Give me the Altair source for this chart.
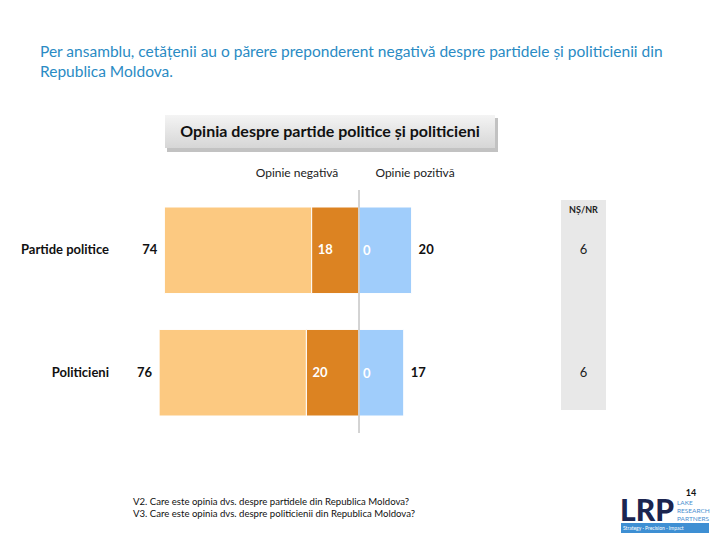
import altair as alt
import pandas as pd

# ---- data ----
categories = ["Partide politice", "Politicieni"]
neg_total = [74, 76]
neg_strong = [18, 20]
pos_total = [20, 17]
pos_strong = [0, 0]
ns_nr = [6, 6]

title_lines = [
    "Per ansamblu, cetățenii au o părere preponderent negativă despre partidele și politicienii din",
    "Republica Moldova.",
]
box_title = "Opinia despre partide politice și politicieni"
headers = ["Opinie negativă", "Opinie pozitivă"]
footnotes = [
    "V2. Care este opinia dvs. despre partidele din Republica Moldova?",
    "V3. Care este opinia dvs. despre politicienii din Republica Moldova?",
]

FONT = "Lato"
W, H = 704, 526

seg_names = ["neg_light", "neg_strong", "pos_light", "pos_strong"]
seg_colors = ["#FCC981", "#DC8322", "#A0CDFB", "#5B9BD5"]

rows = []
for i, c in enumerate(categories):
    rows.append(dict(cat=c, seg="neg_light", x0=-neg_total[i], x1=-neg_strong[i]))
    rows.append(dict(cat=c, seg="neg_strong", x0=-neg_strong[i], x1=0))
    rows.append(dict(cat=c, seg="pos_light", x0=0, x1=pos_total[i]))
    rows.append(dict(cat=c, seg="pos_strong", x0=0, x1=pos_strong[i]))
bars_df = pd.DataFrame(rows)

lab_df = pd.DataFrame({
    "cat": categories,
    "neg_total": neg_total,
    "neg_strong": neg_strong,
    "pos_total": pos_total,
    "pos_strong": pos_strong,
    "ns_nr": ns_nr,
    "neg_pos": [-v for v in neg_total],
    "negs_pos": [-v for v in neg_strong],
})

xscale = alt.Scale(domain=[-351 / 2.63, (W - 351) / 2.63], nice=False, zero=False)
yscale = alt.Scale(domain=categories, range=[199, 408], paddingInner=0.293, paddingOuter=0)

X = lambda f: alt.X(f, type="quantitative", scale=xscale, axis=None)
Y = alt.Y("cat:N", scale=yscale, axis=None)

bars = alt.Chart(bars_df).mark_bar(stroke="white", strokeWidth=1).encode(
    x=X("x0"), x2="x1", y=Y,
    color=alt.Color("seg:N", scale=alt.Scale(domain=seg_names, range=seg_colors), legend=None),
)

lab = alt.Chart(lab_df)
neg_lbl = lab.mark_text(align="right", dx=-7, font=FONT, fontSize=13, fontWeight="bold", color="#111").encode(
    x=X("neg_pos"), y=Y, text="neg_total:Q")
pos_lbl = lab.mark_text(align="left", dx=7, font=FONT, fontSize=13, fontWeight="bold", color="#111").encode(
    x=X("pos_total"), y=Y, text="pos_total:Q")
negs_lbl = lab.mark_text(align="left", dx=6, font=FONT, fontSize=13, fontWeight="bold", color="white").encode(
    x=X("negs_pos"), y=Y, text="neg_strong:Q")
poss_lbl = lab.mark_text(align="left", dx=4, dy=1, font=FONT, fontSize=13, fontWeight="bold", color="white").encode(
    x=X("pos_strong"), y=Y, text="pos_strong:Q")
cat_lbl = lab.mark_text(align="right", font=FONT, fontSize=13, fontWeight="bold", color="#111").encode(
    x=alt.value(101), y=Y, text="cat:N")

# NS/NR column
col_bg = alt.Chart(pd.DataFrame({"a": [0]})).mark_rect(color="#E8E8E8").encode(
    x=alt.value(553), x2=alt.value(598), y=alt.value(192), y2=alt.value(402))
col_hdr = alt.Chart(pd.DataFrame({"t": ["NȘ/NR"]})).mark_text(
    font=FONT, fontSize=9, fontWeight="bold", color="#222").encode(
    x=alt.value(575.5), y=alt.value(202), text="t:N")
ns_lbl = lab.mark_text(font=FONT, fontSize=13, color="#222").encode(
    x=alt.value(575.5), y=Y, text="ns_nr:Q")

# center line
center = alt.Chart(pd.DataFrame({"z": [0]})).mark_rule(color="#A8A8A8", strokeWidth=1).encode(
    x=X("z"), y=alt.value(182), y2=alt.value(425))

# headers
hdr_df = pd.DataFrame({"t": headers, "px": [289, 407]})
hdr = alt.Chart(hdr_df).mark_text(font=FONT, fontSize=12, color="#222").encode(
    x=alt.X("px:Q", scale=None), y=alt.value(165), text="t:N")

# title box with shadow
shadow = alt.Chart(pd.DataFrame({"a": [0]})).mark_rect(color="#9A9A9A", opacity=0.6).encode(
    x=alt.value(159), x2=alt.value(490), y=alt.value(110), y2=alt.value(144))
box = alt.Chart(pd.DataFrame({"a": [0]})).mark_rect(
    fill=alt.Gradient(gradient="linear", x1=0, y1=0, x2=0, y2=1,
                      stops=[alt.GradientStop(color="#F4F4F4", offset=0),
                             alt.GradientStop(color="#D6D6D6", offset=1)])).encode(
    x=alt.value(157), x2=alt.value(487), y=alt.value(107), y2=alt.value(140))
box_txt = alt.Chart(pd.DataFrame({"t": [box_title]})).mark_text(
    font=FONT, fontSize=16, fontWeight="bold", color="#111").encode(
    x=alt.value(322), y=alt.value(124), text="t:N")

# top title
tt_df = pd.DataFrame({"t": title_lines, "py": [44, 64]})
top_title = alt.Chart(tt_df).mark_text(align="left", font=FONT, fontSize=15.5, color="#2A8BC4").encode(
    x=alt.value(32), y=alt.Y("py:Q", scale=None), text="t:N")

# footnotes
fn_df = pd.DataFrame({"t": footnotes, "py": [494, 506]})
fn = alt.Chart(fn_df).mark_text(align="left", font=FONT, fontSize=9.6, color="#111").encode(
    x=alt.value(125), y=alt.Y("py:Q", scale=None), text="t:N")

# logo
page_no = alt.Chart(pd.DataFrame({"t": ["14"]})).mark_text(
    font=FONT, fontSize=9, fontWeight="bold", color="#111").encode(
    x=alt.value(683), y=alt.value(485), text="t:N")
lrp = alt.Chart(pd.DataFrame({"t": ["LRP"]})).mark_text(
    align="left", baseline="alphabetic", font=FONT, fontSize=30, fontWeight=900, color="#1B2550").encode(
    x=alt.value(612), y=alt.value(513), text="t:N")
lrp_sub_df = pd.DataFrame({"t": ["LAKE", "RESEARCH", "PARTNERS"], "py": [495, 503, 511]})
lrp_sub = alt.Chart(lrp_sub_df).mark_text(align="left", font=FONT, fontSize=6.5, color="#4A90D0").encode(
    x=alt.value(669), y=alt.Y("py:Q", scale=None), text="t:N")
strip = alt.Chart(pd.DataFrame({"a": [0]})).mark_rect(color="#3E8FD3").encode(
    x=alt.value(613), x2=alt.value(701), y=alt.value(515), y2=alt.value(525))
strip_txt = alt.Chart(pd.DataFrame({"t": ["Strategy · Precision · Impact"]})).mark_text(
    align="left", font=FONT, fontSize=5, color="white").encode(
    x=alt.value(615), y=alt.value(520), text="t:N")

chart = alt.layer(
    top_title, shadow, box, box_txt, hdr, col_bg, col_hdr, ns_lbl,
    bars, center, neg_lbl, pos_lbl, negs_lbl, poss_lbl, cat_lbl,
    fn, page_no, lrp, lrp_sub, strip, strip_txt,
).properties(
    width=W, height=H, padding=0, autosize=alt.AutoSizeParams(type="none"),
    background="white",
).configure_view(stroke=None)

chart.save("out.html", embed_options={"renderer": "svg", "actions": False})
